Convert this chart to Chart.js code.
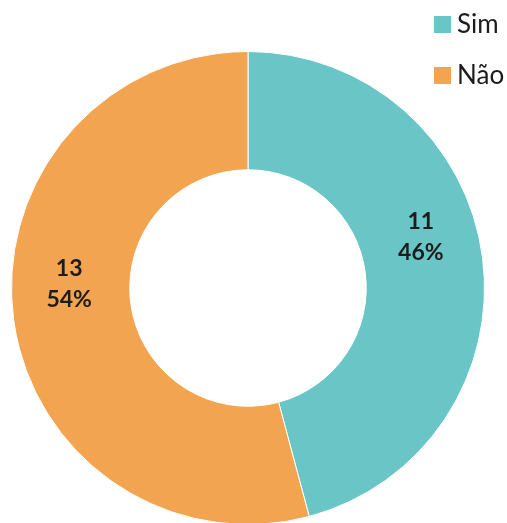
<!DOCTYPE html>
<html>
<head>
<meta charset="utf-8">
<script src="https://cdn.jsdelivr.net/npm/chart.js@4.4.0/dist/chart.umd.min.js"></script>
<style>
    html, body {
        margin: 0;
        padding: 0;
        background: #ffffff;
        overflow: hidden;
    }
    .chartBox {
        position: relative;
        width: 507px;
        height: 530px;
    }
</style>
</head>
<body>
<div class="chartBox">
    <canvas id="myChart"></canvas>
</div>
<script>
const labels = ["Sim", "Não"];
const counts = [11, 13];
const percents = ["46%", "54%"];
const colors = ["#6AC5C6", "#F2A451"];

// draws "count / percent" inside each slice
const sliceLabels = {
    id: "sliceLabels",
    afterDatasetsDraw(chart) {
        const ctx = chart.ctx;
        const meta = chart.getDatasetMeta(0);
        ctx.save();
        ctx.font = "bold 23px Lato";
        ctx.fillStyle = "#1c1c1c";
        ctx.textAlign = "center";
        ctx.textBaseline = "middle";
        meta.data.forEach((arc, i) => {
            const pos = arc.tooltipPosition();
            ctx.fillText(String(counts[i]), pos.x - 3, pos.y - 43);
            ctx.fillText(percents[i], pos.x - 3, pos.y - 12);
        });
        ctx.restore();
    },
};

// legend in the top right corner
const cornerLegend = {
    id: "cornerLegend",
    afterDraw(chart) {
        const ctx = chart.ctx;
        const bg = chart.data.datasets[0].backgroundColor;
        ctx.save();
        ctx.font = "26px Lato";
        ctx.textBaseline = "alphabetic";
        ctx.textAlign = "left";
        chart.data.labels.forEach((label, i) => {
            const top = 16 + i * 51;
            ctx.fillStyle = bg[i];
            ctx.fillRect(434, top, 17, 17);
            ctx.fillStyle = "#1c1c1c";
            ctx.fillText(label, 457, top + 17);
        });
        ctx.restore();
    },
};

const ctx = document.querySelector("#myChart");

new Chart(ctx, {
    type: "doughnut",
    data: {
        labels: labels,
        datasets: [
            {
                data: counts,
                backgroundColor: colors,
                borderColor: "#ffffff",
                borderWidth: 1,
                hoverOffset: 0,
            },
        ],
    },
    options: {
        responsive: true,
        maintainAspectRatio: false,
        animation: false,
        cutout: "50%",
        layout: {
            padding: { top: 51, left: 11, right: 22, bottom: 5 },
        },
        plugins: {
            legend: { display: false },
            tooltip: { enabled: false },
        },
    },
    plugins: [sliceLabels, cornerLegend],
});
</script>
</body>
</html>
